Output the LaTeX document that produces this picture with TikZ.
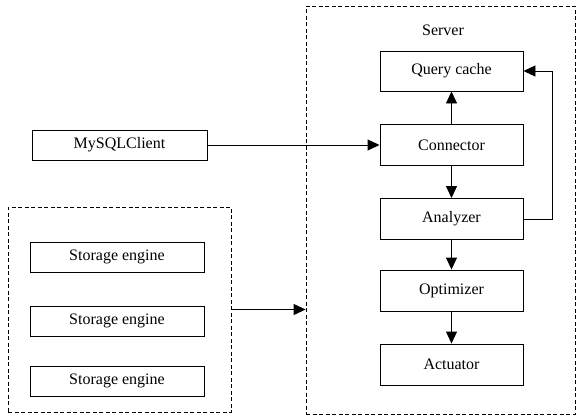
\documentclass[tikz,border=0pt]{standalone}
\usepackage{fontspec}
\setmainfont{Liberation Serif}
\usetikzlibrary{arrows.meta}
\begin{document}
\begin{tikzpicture}[x=1pt,y=-1pt,
  box/.style={draw,line width=0.9pt,minimum width=143pt,minimum height=41pt,inner sep=0pt,font=\fontsize{16}{18}\selectfont},
  sbox/.style={draw,line width=0.9pt,minimum width=174pt,minimum height=30pt,inner sep=0pt,font=\fontsize{16}{18}\selectfont},
  group/.style={draw,line width=0.8pt,dash pattern=on 4pt off 2.5pt,inner sep=0pt},
  conn/.style={line width=0.9pt,-{Triangle[length=12pt,width=11pt]}}]
\useasboundingbox (0,0) rectangle (576,416);
\node[group,minimum width=269pt,minimum height=408pt] (server) at (440.5,210) {};
\node[font=\fontsize{16}{18}\selectfont] (slabel) at (443,30) {Server};
\node[group,minimum width=223pt,minimum height=205pt] (stor) at (119.5,309.5) {};
\node[box,minimum height=40pt] (qc) at (451.5,71) {Query cache};
\node[box] (con) at (451.5,145) {Connector};
\node[box] (ana) at (451.5,219) {Analyzer};
\node[box] (opt) at (451.5,290.5) {Optimizer};
\node[box] (act) at (451.5,364.5) {Actuator};
\node[sbox,minimum width=175pt] (cli) at (119.5,145) {MySQLClient};
\node[sbox] (se1) at (117,257) {Storage engine};
\node[sbox] (se2) at (117,321) {Storage engine};
\node[sbox] (se3) at (117,381) {Storage engine};
\draw[conn] (cli.east) -- (con.west);
\draw[conn] (con.north) -- (qc.south);
\draw[conn] (con.south) -- (ana.north);
\draw[conn] (ana.south) -- (opt.north);
\draw[conn] (opt.south) -- (act.north);
\draw[conn] (ana.east) -- ++(29,0) |- (qc.east);
\draw[conn] (stor.east) -- (stor.east -| server.west);
\end{tikzpicture}
\end{document}
